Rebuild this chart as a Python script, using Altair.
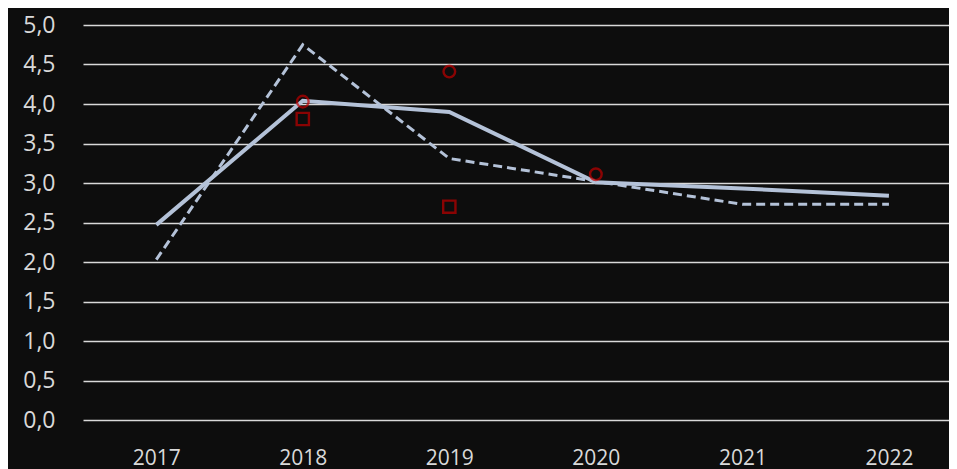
import altair as alt
import pandas as pd

years = [2017, 2018, 2019, 2020, 2021, 2022]
solid_vals = [2.47, 4.04, 3.90, 3.01, 2.93, 2.84]
dashed_vals = [2.03, 4.75, 3.31, 3.02, 2.73, 2.73]
circle_years = [2018, 2019, 2020]
circle_vals = [4.03, 4.41, 3.11]
square_years = [2018, 2019]
square_vals = [3.81, 2.70]
y_ticks = [0.0, 0.5, 1.0, 1.5, 2.0, 2.5, 3.0, 3.5, 4.0, 4.5, 5.0]

solid_df = pd.DataFrame({"year": years, "value": solid_vals})
dashed_df = pd.DataFrame({"year": years, "value": dashed_vals})
circle_df = pd.DataFrame({"year": circle_years, "value": circle_vals})
square_df = pd.DataFrame({"year": square_years, "value": square_vals})

x_enc = alt.X(
    "year:Q",
    scale=alt.Scale(domain=[2016.5, 2022.41], nice=False, zero=False),
    axis=alt.Axis(
        values=years, format="d", title=None, grid=False, domain=False,
        ticks=False, tickSize=0, labelPadding=44, labelBaseline="alphabetic",
        labelFont="Open Sans", labelFontSize=21, labelColor="#d9d9d9",
        labelFlush=False,
    ),
)
y_enc = alt.Y(
    "value:Q",
    scale=alt.Scale(domain=[0, 5], nice=False),
    axis=alt.Axis(
        values=y_ticks, title=None, domain=False, ticks=False, tickSize=0,
        labelPadding=28, labelExpr="replace(format(datum.value, '.1f'), '.', ',')",
        labelFont="Open Sans", labelFontSize=23, labelColor="#d9d9d9",
        grid=True, gridColor="#d9d9d9", gridWidth=1.5, labelFlush=False,
    ),
)

line_color = "#b4c2d8"

solid = alt.Chart(solid_df).mark_line(color=line_color, strokeWidth=4).encode(x=x_enc, y=y_enc)
dashed = alt.Chart(dashed_df).mark_line(
    color=line_color, strokeWidth=3, strokeDash=[9, 5]
).encode(x=x_enc, y=y_enc)
circles = alt.Chart(circle_df).mark_point(
    shape="circle", filled=False, color="#c00000", strokeWidth=2.4, size=135
).encode(x=x_enc, y=y_enc)
squares = alt.Chart(square_df).mark_point(
    shape="square", filled=False, color="#c00000", strokeWidth=2.4, size=150
).encode(x=x_enc, y=y_enc)

chart = alt.layer(dashed, solid, circles, squares).properties(
    width=866,
    height=395,
    autosize=alt.AutoSizeParams(type="none"),
    padding={"left": 75, "top": 17, "right": 0, "bottom": 49},
    background="#0d0d0d",
).configure_view(stroke=None)

chart.save("out.html", embed_options={"renderer": "svg", "actions": False})
